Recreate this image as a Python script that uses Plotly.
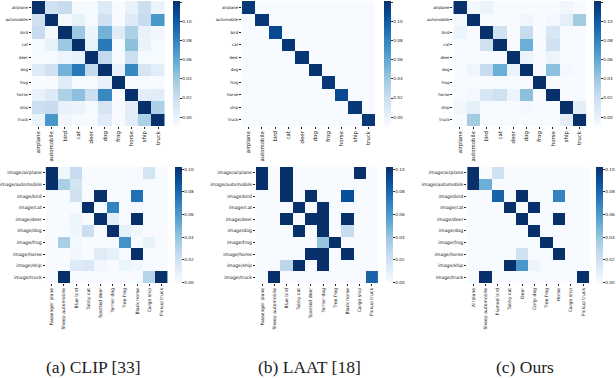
import plotly.graph_objects as go

W, H = 616, 378

classes = ["airplane", "automobile", "bird", "cat", "deer", "dog", "frog", "horse", "ship", "truck"]
image_labels = ["image/airplane", "image/automobile", "image/bird", "image/cat", "image/deer",
                "image/dog", "image/frog", "image/horse", "image/ship", "image/truck"]
x_labels_d = ["Passenger plane", "Sheep automobile", "Blue bird", "Tabby cat", "Spotted deer",
              "Terrier dog", "Tree frog", "Black horse", "Cargo ship", "Pickup truck"]
x_labels_e = ["Passenger plane", "Sheep automobile", "Blue bird", "Tabby cat", "Spotted deer",
              "Terrier dog", "Tree frog", "Black horse", "Cargo ship", "Pickup truck"]
x_labels_f = ["Airplane", "Sheep automobile", "Plumed bird", "Tabby cat", "Deer", "Corgi dog",
              "Tree frog", "Horse", "Cargo ship", "Pickup truck"]

clip_top = [
    [1.00, .20, .24, .01, .01, .13, .00, .07, .22, .06],
    [.20, 1.00, .02, .08, .01, .20, .00, .13, .24, .60],
    [.24, .02, 1.00, .38, .05, .48, .12, .33, .07, .03],
    [.01, .08, .38, 1.00, .08, .72, .01, .42, .06, .01],
    [.01, .01, .05, .08, 1.00, .26, .01, .22, .01, .01],
    [.13, .20, .48, .72, .26, 1.00, .07, .66, .17, .11],
    [.00, .00, .12, .01, .01, .07, 1.00, .00, .00, .00],
    [.07, .13, .33, .42, .22, .66, .00, 1.00, .10, .11],
    [.22, .24, .07, .06, .01, .17, .00, .10, 1.00, .33],
    [.06, .60, .03, .01, .01, .11, .00, .11, .33, 1.00],
]
laat_top = [
    [.97, 0, 0, 0, 0, 0, 0, 0, 0, 0],
    [0, .97, 0, 0, 0, 0, 0, 0, 0, 0],
    [0, 0, .90, 0, 0, 0, 0, 0, 0, 0],
    [0, 0, 0, .98, 0, 0, 0, 0, 0, 0],
    [0, 0, 0, 0, .98, 0, 0, 0, 0, 0],
    [0, 0, 0, 0, 0, .99, 0, 0, 0, 0],
    [0, 0, 0, 0, 0, 0, .97, 0, 0, 0],
    [0, 0, 0, 0, 0, 0, 0, .90, 0, 0],
    [0, 0, 0, 0, 0, 0, 0, 0, .97, 0],
    [0, 0, 0, 0, 0, 0, 0, 0, 0, .97],
]
ours_top = [
    [1.00, .02, .05, 0, 0, 0, 0, 0, .04, 0],
    [.02, 1.00, 0, 0, 0, .04, 0, .02, .09, .36],
    [.05, 0, 1.00, .20, 0, .24, 0, .16, 0, 0],
    [0, 0, .20, 1.00, 0, .50, 0, .20, 0, 0],
    [0, 0, 0, 0, 1.00, .06, 0, .05, 0, 0],
    [0, .04, .24, .50, .06, 1.00, 0, .42, .02, 0],
    [0, 0, 0, 0, 0, 0, 1.00, 0, 0, 0],
    [0, .02, .16, .20, .05, .42, 0, 1.00, 0, 0],
    [.04, .09, 0, 0, 0, .02, 0, 0, 1.00, .10],
    [0, .36, 0, 0, 0, 0, 0, 0, .10, 1.00],
]
clip_bottom = [
    [1.00, .04, .24, 0, 0, 0, 0, 0, .18, 0],
    [1.00, .34, .18, 0, 0, 0, 0, 0, 0, 0],
    [0, 0, .20, 0, 1.00, 0, 0, .75, 0, 0],
    [0, 0, 0, 1.00, 0, .68, 0, .03, 0, 0],
    [0, 0, .05, 0, 1.00, .10, 0, 1.00, 0, 0],
    [0, 0, .04, .22, 0, 1.00, .08, .03, 0, 0],
    [0, .34, .02, 0, 0, 0, .62, 0, .08, 0],
    [0, 0, .03, 0, .12, .08, 0, 1.00, 0, 0],
    [0, 0, .13, .15, .03, 0, .05, .03, 0, 0],
    [0, 1.00, 0, 0, 0, 0, 0, 0, .30, 1.00],
]
laat_bottom = [
    [1.00, 0, 1.00, 0, 0, 0, 0, 0, 1.00, 0],
    [1.00, 0, 1.00, 0, 0, 0, 0, 0, 0, 0],
    [0, 0, 1.00, 0, 1.00, 0, 0, .88, 0, 0],
    [0, 0, 0, 1.00, 0, 1.00, 0, 0, 0, 0],
    [0, 0, 1.00, 0, 1.00, 1.00, 0, 1.00, 0, 0],
    [0, 0, 0, 1.00, 0, 1.00, 0, .24, 0, 0],
    [0, 0, 0, 0, 0, .40, 1.00, 0, 0, 0],
    [0, 0, 0, 0, 1.00, 1.00, 0, 1.00, 0, 0],
    [0, 0, .28, 1.00, 0, 1.00, 0, 0, 0, 0],
    [0, 1.00, 0, 0, 0, 0, 0, 0, 0, .80],
]
ours_bottom = [
    [1.00, 0, .20, 0, 0, 0, 0, 0, 0, 0],
    [1.00, .50, 0, 0, 0, 0, 0, 0, 0, 0],
    [0, 0, .80, 0, 1.00, 0, 0, .68, 0, 0],
    [0, 0, 0, 1.00, 0, 1.00, 0, 0, 0, 0],
    [0, 0, 0, 0, 1.00, 0, 0, 1.00, 0, 0],
    [0, 0, 0, 0, 0, 1.00, 0, 0, 0, 0],
    [0, 0, 0, 0, 0, 0, 1.00, 0, 0, 0],
    [0, 0, 0, 0, .20, 0, 0, 1.00, 0, 0],
    [0, 0, 0, 1.00, .60, .05, 0, 0, 0, 0],
    [0, 1.00, 0, 0, 0, 0, 0, 0, 0, 1.00],
]

top_cb_vals = [.07, .224, .377, .53, .684, .837, .99]
top_cb_text = ["0.00", "0.02", "0.04", "0.06", "0.08", "0.10", "0.12"]
bot_cb_vals = [.006, .2, .395, .59, .785, .98]
bot_cb_text = ["0.00", "0.02", "0.04", "0.06", "0.08", "0.10"]

captions = ["(a) CLIP [33]", "(b) LAAT [18]", "(c) Ours"]
caption_x = [91, 309, 526]
caption_y = 366.5

blues = [[0, "#f7fbff"], [.125, "#deebf7"], [.25, "#c6dbef"], [.375, "#9ecae1"], [.5, "#6baed6"],
         [.625, "#4292c6"], [.75, "#2171b5"], [.875, "#08519c"], [1, "#08306b"]]

panels = [
    (clip_top, classes, classes, 29, 163, 1, 126, 171, 7, top_cb_vals, top_cb_text, 5.4, 4.0),
    (laat_top, classes, classes, 241, 375, 1, 126, 384, 6.5, top_cb_vals, top_cb_text, 5.4, 4.0),
    (ours_top, classes, classes, 454, 588, 1, 126, 596, 7, top_cb_vals, top_cb_text, 5.4, 4.0),
    (clip_bottom, x_labels_d, image_labels, 43, 166, 167, 283, 173, 7, bot_cb_vals, bot_cb_text, 4.6, 4.6),
    (laat_bottom, x_labels_e, image_labels, 255, 378, 167, 283, 386, 6.5, bot_cb_vals, bot_cb_text, 4.6, 4.6),
    (ours_bottom, x_labels_f, image_labels, 468, 591, 167, 283, 598, 6.5, bot_cb_vals, bot_cb_text, 4.6, 4.6),
]

fig = go.Figure()
layout = {}
for i, (z, xl, yl, l, r, t, b, cl, cw, cv, ct, xf, yf) in enumerate(panels):
    n = "" if i == 0 else str(i + 1)
    fig.add_trace(go.Heatmap(
        z=z, x=list(range(10)), y=list(range(10)), xaxis="x" + n, yaxis="y" + n,
        zmin=0, zmax=1, colorscale=blues, xgap=0, ygap=0, hoverongaps=False,
        colorbar=dict(
            x=cl / W, xanchor="left", xpad=0, ypad=0,
            y=1 - b / H, yanchor="bottom", lenmode="fraction", len=(b - t) / H,
            thicknessmode="pixels", thickness=cw, outlinewidth=0,
            ticks="outside", ticklen=2, tickwidth=0.5, tickcolor="#333",
            tickmode="array", tickvals=cv, ticktext=ct,
            tickfont=dict(size=4.2, family="DejaVu Sans", color="#222"),
        ),
    ))
    axis_common = dict(showgrid=False, zeroline=False, showline=False, ticks="outside", ticklen=2,
                       tickwidth=0.6, tickcolor="#222", tickmode="array", tickvals=list(range(10)))
    layout["xaxis" + n] = dict(axis_common, domain=[l / W, r / W], ticktext=xl, tickangle=-90,
                               range=[-.5, 9.5], anchor="y" + n,
                               tickfont=dict(size=xf, family="DejaVu Sans", color="#111"))
    layout["yaxis" + n] = dict(axis_common, domain=[1 - b / H, 1 - t / H], ticktext=yl,
                               range=[9.5, -.5], anchor="x" + n,
                               tickfont=dict(size=yf, family="DejaVu Sans", color="#111"))

fig.update_layout(
    width=W, height=H, margin=dict(l=0, r=0, t=0, b=0),
    paper_bgcolor="white", plot_bgcolor="white", showlegend=False,
    annotations=[
        dict(text=c, x=x / W, y=1 - caption_y / H, xref="paper", yref="paper", showarrow=False,
             xanchor="center", yanchor="middle",
             font=dict(size=17.5, family="Liberation Serif", color="#222"))
        for c, x in zip(captions, caption_x)
    ],
    **layout,
)
fig.write_html("out.html", config={"displayModeBar": False},
               post_script="document.body.style.margin='0';document.documentElement.style.overflow='hidden';")
